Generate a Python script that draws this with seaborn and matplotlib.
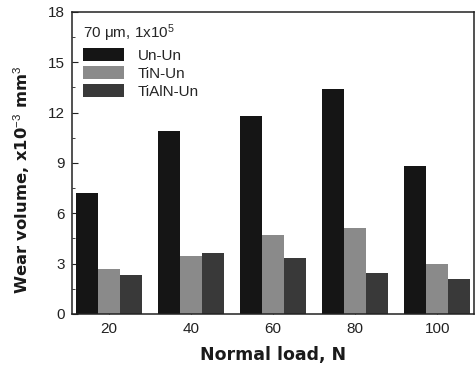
import matplotlib
matplotlib.use("Agg")
import matplotlib.pyplot as plt
import seaborn as sns
import pandas as pd
from matplotlib.ticker import MultipleLocator

loads = ["20", "40", "60", "80", "100"]
un_un = [7.2, 10.9, 11.8, 13.4, 8.8]
tin_un = [2.7, 3.45, 4.7, 5.15, 2.95]
tialn_un = [2.3, 3.65, 3.35, 2.45, 2.1]
series = ["Un-Un", "TiN-Un", "TiAlN-Un"]

rows = []
for name, vals in zip(series, [un_un, tin_un, tialn_un]):
    for l, v in zip(loads, vals):
        rows.append({"load": l, "series": name, "value": v})
df = pd.DataFrame(rows)

sns.set_style("ticks")
plt.rcParams["font.family"] = ["Liberation Sans", "DejaVu Sans"]
plt.rcParams["mathtext.fontset"] = "custom"
plt.rcParams["mathtext.rm"] = "Liberation Sans"
plt.rcParams["mathtext.it"] = "Liberation Sans"
plt.rcParams["mathtext.bf"] = "Liberation Sans:bold"

fig = plt.figure(figsize=(4.76, 3.72), dpi=100)
ax = fig.add_axes([0.151, 0.156, 0.845, 0.812])
palette = {"Un-Un": "#151515", "TiN-Un": "#8a8a8a", "TiAlN-Un": "#393939"}
sns.barplot(data=df, x="load", y="value", hue="series", order=loads,
            hue_order=series, palette=palette, width=0.8, ax=ax,
            saturation=1, edgecolor="none", linewidth=0)

ax.set_ylim(0, 18)
ax.set_xlim(-0.45, 4.45)
ax.yaxis.set_major_locator(MultipleLocator(3))
ax.yaxis.set_minor_locator(MultipleLocator(1.5))
ax.tick_params(axis="both", which="both", direction="in", labelsize=11, colors="#222222")
ax.tick_params(axis="y", which="major", length=4, pad=5)
ax.tick_params(axis="y", which="minor", length=2)
ax.tick_params(axis="x", length=3, pad=6)
for s in ax.spines.values():
    s.set_linewidth(1.1)
    s.set_color("#222222")

lab_font = dict(fontweight="bold", family=["DejaVu Sans"], color="#1a1a1a")
ax.set_xlabel("Normal load, N", labelpad=7, fontsize=12.5, **lab_font)
ax.set_ylabel("Wear volume, x10$^{-3}$ mm$^3$", fontsize=11.8, **lab_font)
ax.yaxis.set_label_coords(-0.1, 0.445)

leg = ax.legend(title="70 μm, 1x10$^5$", loc="upper left", frameon=False,
                fontsize=11, title_fontsize=11, handlelength=2.7, handleheight=0.9,
                handletextpad=0.9, labelspacing=0.22, borderaxespad=0.3,
                bbox_to_anchor=(0.0, 1.0))
leg._legend_box.align = "left"
leg._legend_box.sep = 3

fig.savefig("out.png", dpi=100)
